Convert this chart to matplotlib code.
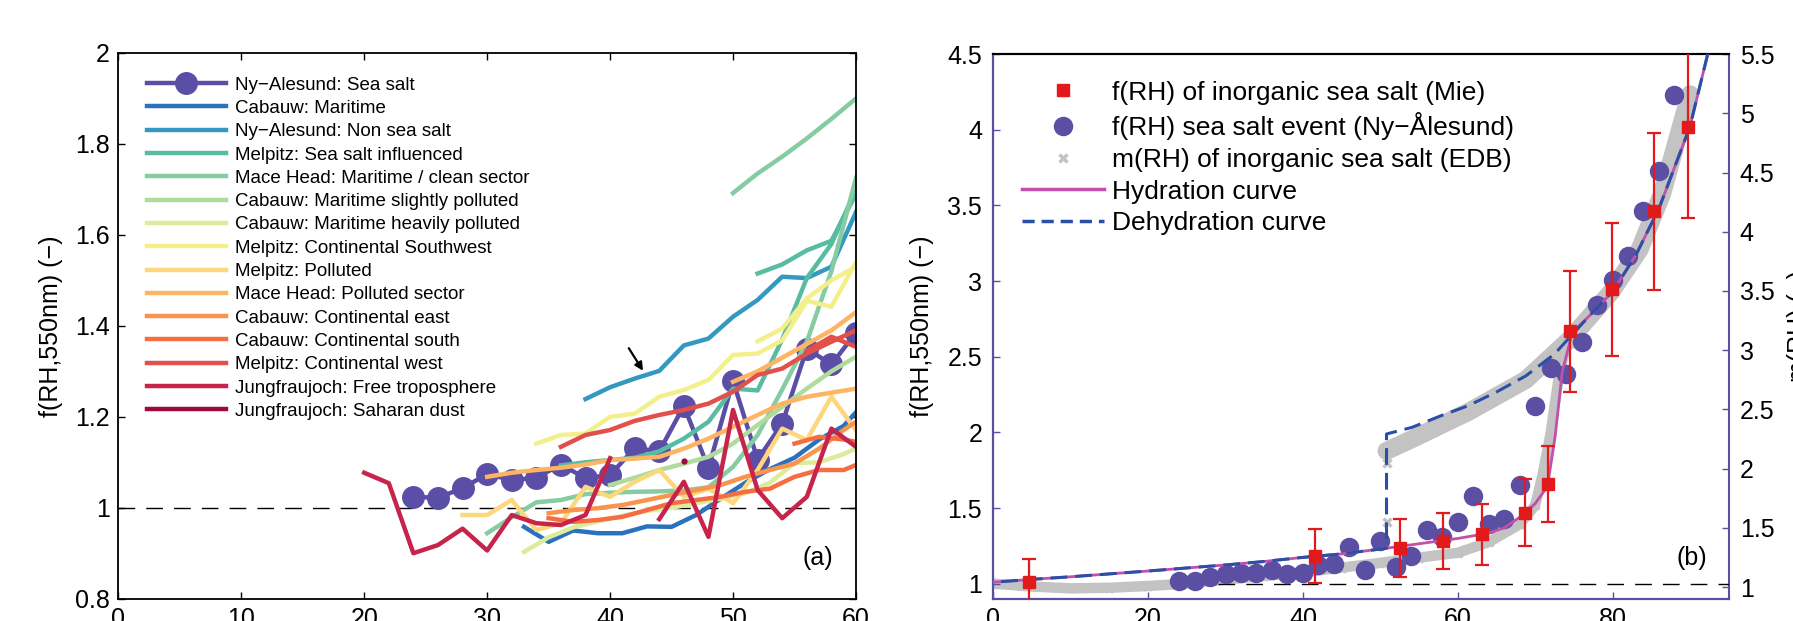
import numpy as np
import matplotlib
matplotlib.use('Agg')
import matplotlib.pyplot as plt
from matplotlib.lines import Line2D
from matplotlib.ticker import FormatStrFormatter

plt.rcParams['font.family'] = ['Liberation Sans', 'DejaVu Sans']

nan = np.nan

# ---------------- panel (a): f(RH) of different sites ----------------
labels_a = ['Ny\u2212Alesund: Sea salt', 'Cabauw: Maritime', 'Ny\u2212Alesund: Non sea salt',
            'Melpitz: Sea salt influenced', 'Mace Head: Maritime / clean sector',
            'Cabauw: Maritime slightly polluted', 'Cabauw: Maritime heavily polluted',
            'Melpitz: Continental Southwest', 'Melpitz: Polluted', 'Mace Head: Polluted sector',
            'Cabauw: Continental east', 'Cabauw: Continental south', 'Melpitz: Continental west',
            'Jungfraujoch: Free troposphere', 'Jungfraujoch: Saharan dust']

rh_ny_ss = [24, 26, 28, 30, 32, 34, 36, 38, 40, 42, 44, 46, 48, 50, 52, 54, 56, 58, 60]
f_ny_ss = [1.024, 1.022, 1.043, 1.074, 1.061, 1.066, 1.095, 1.065, 1.072, 1.131, 1.124, 1.224,
           1.087, 1.279, 1.106, 1.185, 1.350, 1.315, 1.385]

rh_cab_mar = [33, 35, 37, 39, 41, 43, 45, 47, 49, 51, 53, 55, 57, 59, 60]
f_cab_mar = [0.958, 0.925, 0.950, 0.944, 0.944, 0.959, 0.958, 0.984, 1.020, 1.055, 1.085, 1.110,
             1.150, 1.180, 1.210]

rh_ny_nss = [38, 40, 42, 44, 46, 48, 50, 52, 54, 56, 58, 60]
f_ny_nss = [1.239, 1.265, 1.284, 1.301, 1.357, 1.372, 1.420, 1.457, 1.508, 1.505, 1.530, 1.650]

rh_mel_ss = [36, 38, 40, 42, 44, 46, 48, 50, 52, 54, 56, 58, 60, nan, 52, 54, 56, 58, 60]
f_mel_ss = [1.093, 1.100, 1.105, 1.110, 1.124, 1.152, 1.189, 1.262, 1.258, 1.370, 1.505, 1.580,
            1.700, nan, 1.515, 1.535, 1.566, 1.587, 1.690]

rh_mh_mar = [30, 32, 34, 36, 38, 40, 42, 44, 46, 48, 50, 52, 54, 56, 58, 60, nan,
             50, 52, 54, 56, 58, 60]
f_mh_mar = [0.944, 0.979, 1.012, 1.017, 1.030, 1.033, 1.035, 1.036, 1.038, 1.045, 1.090, 1.160,
            1.260, 1.365, 1.520, 1.725, nan, 1.692, 1.735, 1.772, 1.812, 1.855, 1.900]

rh_cab_slight = [40, 42, 44, 46, 48, 50, 52, 54, 56, 58, 60]
f_cab_slight = [1.050, 1.066, 1.083, 1.097, 1.112, 1.141, 1.182, 1.222, 1.262, 1.300, 1.332]

rh_cab_heavy = [33, 35, 37, 39, 41, 43, 45, 47, 49, 51, 53, 55, 57, 59, 60]
f_cab_heavy = [0.903, 0.935, 0.957, 0.970, 0.982, 0.993, 1.000, 1.010, 1.020, 1.032, 1.055,
               1.098, 1.100, 1.118, 1.130]

rh_mel_sw = [34, 36, 38, 40, 42, 44, 46, 48, 50, 52, 54, 56, 58, 60, nan, 52, 54, 56, 58, 60]
f_mel_sw = [1.141, 1.160, 1.163, 1.200, 1.207, 1.244, 1.259, 1.281, 1.336, 1.339, 1.368, 1.455,
            1.442, 1.540, nan, 1.366, 1.394, 1.460, 1.500, 1.530]

rh_mel_pol = [28, 30, 32, 34, 36, 38, 40, 42, 44, 46, 48, 50, 52, 54, 56, 58, 60]
f_mel_pol = [0.984, 0.984, 1.017, 0.951, 0.966, 1.046, 1.024, 1.057, 1.083, 1.024, 1.042, 1.010,
             1.083, 1.174, 1.149, 1.244, 1.170]

rh_mh_pol = [30, 32, 34, 36, 38, 40, 42, 44, 46, 48, 50, 52, 54, 56, 58, 60, nan,
             50, 52, 54, 56, 58, 60]
f_mh_pol = [1.068, 1.077, 1.083, 1.088, 1.095, 1.105, 1.108, 1.112, 1.130, 1.152, 1.178, 1.204,
            1.229, 1.244, 1.253, 1.262, nan, 1.277, 1.300, 1.330, 1.360, 1.390, 1.430]

rh_cab_east = [35, 37, 39, 41, 43, 45, 47, 49, 51, 53, 55, 57, 59, 60]
f_cab_east = [0.988, 0.995, 0.999, 1.006, 1.017, 1.028, 1.039, 1.050, 1.068, 1.083, 1.097,
              1.130, 1.171, 1.189]

rh_cab_south = [35, 37, 39, 41, 43, 45, 47, 49, 51, 53, 55, 57, 59, 60, nan, 55, 57, 59, 60]
f_cab_south = [0.977, 0.969, 0.973, 0.980, 0.995, 1.010, 1.017, 1.024, 1.035, 1.042, 1.068,
               1.083, 1.083, 1.094, nan, 1.141, 1.156, 1.150, 1.145]

rh_mel_w = [36, 38, 40, 42, 44, 46, 48, 50, 52, 54, 56, 58, 60, nan, 56, 58, 60]
f_mel_w = [1.134, 1.160, 1.171, 1.191, 1.204, 1.215, 1.229, 1.255, 1.292, 1.306, 1.339, 1.365,
           1.390, nan, 1.345, 1.376, 1.354]

rh_jfj_ft = [20, 22, 24, 26, 28, 30, 32, 34, 36, 38, 40, 42, 44, 46, 48, 50, 52, 54, 56, 58, 60]
f_jfj_ft = [1.077, 1.054, 0.900, 0.918, 0.954, 0.906, 0.984, 0.966, 0.962, 0.984, 1.109, nan,
            0.975, 1.057, 0.936, 1.215, 1.039, 0.977, 1.024, 1.174, 1.134]

rh_jfj_sd = [46]
f_jfj_sd = [1.103]

colors_a = ['#5a4ea6', '#2b72bc', '#3399c0', '#58bca3', '#86cca2', '#afdc9c', '#dcec9a',
            '#f3ef8a', '#fdd77c', '#fdb463', '#f9944f', '#f46d43', '#e1504a', '#c6244a', '#9e0a3e']

# ---------------- panel (b): sea salt ----------------
rh_mie = [4.6, 41.5, 52.6, 58.1, 63.2, 68.7, 71.7, 74.5, 79.9, 85.3, 89.8]
f_mie = [1.013, 1.183, 1.236, 1.283, 1.327, 1.471, 1.662, 2.668, 2.945, 3.461, 4.018]
err_mie = [0.15, 0.178, 0.19, 0.186, 0.2, 0.223, 0.25, 0.40, 0.437, 0.52, 0.60]

rh_event = [24, 26, 28, 30, 32, 34, 36, 38, 40, 42, 44, 46, 48, 50, 52, 54, 56, 58, 60, 62, 64,
            66, 68, 70, 72, 74, 76, 78, 80, 82, 84, 86, 88]
f_event = [1.022, 1.020, 1.044, 1.066, 1.070, 1.072, 1.094, 1.065, 1.070, 1.125, 1.130, 1.241,
           1.092, 1.285, 1.110, 1.186, 1.355, 1.310, 1.412, 1.579, 1.397, 1.429, 1.655, 2.173,
           2.427, 2.387, 2.597, 2.840, 3.008, 3.165, 3.461, 3.728, 4.228]

# m(RH) EDB, right axis
rh_edb_hyd = [0, 5, 10, 15, 20, 25, 30, 35, 40, 45, 50, 55, 60, 64, 68, 70, 71, 72, 73, 74]
m_edb_hyd = [1.03, 1.005, 0.99, 0.995, 1.01, 1.03, 1.065, 1.095, 1.125, 1.165, 1.205, 1.25,
             1.29, 1.38, 1.53, 1.69, 1.96, 2.30, 2.75, 3.05]
rh_edb_dehyd = [90, 88.7, 86.4, 83.5, 79.8, 74.6, 68.8, 61.4, 54.1, 50.8]
m_edb_dehyd = [5.16, 4.86, 4.32, 3.85, 3.49, 3.10, 2.75, 2.48, 2.25, 2.15]
rh_edb_jump = [50.8, 50.8]
m_edb_jump = [2.05, 1.55]

rh_hyd = [0, 5, 10, 15, 20, 25, 30, 35, 40, 45, 50, 55, 60, 64, 66, 68, 70, 71.6, 72.6, 73.5,
          74.8, 77, 80, 83, 86, 88, 90, 92.3]
f_hyd = [1.011, 1.03, 1.047, 1.066, 1.085, 1.105, 1.125, 1.148, 1.175, 1.198, 1.23, 1.265, 1.30,
         1.335, 1.37, 1.44, 1.53, 1.644, 1.98, 2.40, 2.66, 2.77, 2.93, 3.17, 3.48, 3.75, 4.02, 4.5]

rh_dehyd = [92.3, 90, 88, 86, 83, 80, 77, 74.6, 72.5, 68.8, 65.1, 61.4, 57.8, 54.1, 50.8, 50.8,
            50, 45, 40, 35, 30, 25, 20, 15, 10, 5, 0]
f_dehyd = [4.5, 4.02, 3.75, 3.48, 3.17, 2.93, 2.77, 2.636, 2.518, 2.374, 2.27, 2.178, 2.11,
           2.034, 1.99, 1.235, 1.23, 1.198, 1.175, 1.148, 1.125, 1.105, 1.085, 1.066, 1.047,
           1.03, 1.011]

purple = '#5a4fa2'
red = '#e31a1c'
grey = '#c3c3c3'

fig = plt.figure(figsize=(17.93, 6.21), dpi=100)

# ================= (a) =================
axa = fig.add_axes([0.0660, 0.0359, 0.4114, 0.8788])
series_a = [(rh_ny_ss, f_ny_ss), (rh_cab_mar, f_cab_mar), (rh_ny_nss, f_ny_nss),
            (rh_mel_ss, f_mel_ss), (rh_mh_mar, f_mh_mar), (rh_cab_slight, f_cab_slight),
            (rh_cab_heavy, f_cab_heavy), (rh_mel_sw, f_mel_sw), (rh_mel_pol, f_mel_pol),
            (rh_mh_pol, f_mh_pol), (rh_cab_east, f_cab_east), (rh_cab_south, f_cab_south),
            (rh_mel_w, f_mel_w), (rh_jfj_ft, f_jfj_ft), (rh_jfj_sd, f_jfj_sd)]
axa.plot([0, 60], [1, 1], color='k', lw=1.0, dashes=(12, 8), zorder=1)
for i, (x, y) in enumerate(series_a):
    if i == 0:
        axa.plot(x, y, '-o', color=colors_a[i], lw=3.2, ms=15.5, label=labels_a[i], zorder=2)
    else:
        axa.plot(x, y, '-', color=colors_a[i], lw=3.2, label=labels_a[i], zorder=2)
axa.plot(rh_jfj_sd, f_jfj_sd, 'o', color=colors_a[14], ms=3.5, zorder=3)

axa.annotate('', xy=(42.8, 1.296), xytext=(41.4, 1.356),
             arrowprops=dict(arrowstyle='-|>', color='k', lw=1.6, mutation_scale=12))

axa.set_xlim(0, 60)
axa.set_ylim(0.8, 2.0)
axa.set_xticks([0, 10, 20, 30, 40, 50, 60])
axa.set_yticks([0.8, 1.0, 1.2, 1.4, 1.6, 1.8, 2.0])
axa.yaxis.set_major_formatter(FormatStrFormatter('%g'))
axa.tick_params(direction='in', top=True, right=True, length=5, width=1, labelsize=18, pad=6)
for s in axa.spines.values():
    s.set_linewidth(1.3)
axa.set_ylabel('f(RH,550nm) (\u2212)', fontsize=18, labelpad=9)
axa.text(0.948, 0.075, '(a)', transform=axa.transAxes, fontsize=18, ha='center', va='center')
axa.legend(loc='upper left', bbox_to_anchor=(0.039, 0.957), frameon=False, fontsize=13.5,
           handlelength=4.2, handletextpad=0.48, labelspacing=0.33, borderpad=0,
           borderaxespad=0, markerscale=1.0)

# ================= (b) =================
axb = fig.add_axes([0.5540, 0.0354, 0.4101, 0.8776])
ax2 = axb.twinx()
ax2.set_zorder(0)
axb.set_zorder(1)
axb.patch.set_visible(False)

# m(RH) on right axis
ax2.plot(rh_edb_hyd, m_edb_hyd, '-', color=grey, lw=7.5, solid_capstyle='round')
ax2.plot(rh_edb_dehyd, m_edb_dehyd, '-', color=grey, lw=13, solid_capstyle='round')
ax2.plot(rh_edb_hyd + rh_edb_dehyd + rh_edb_jump, m_edb_hyd + m_edb_dehyd + m_edb_jump, 'x',
         color=grey, ms=6, mew=2.5)
ax2.set_ylim(0.9, 5.5)
ax2.set_yticks([1, 1.5, 2, 2.5, 3, 3.5, 4, 4.5, 5, 5.5])
ax2.yaxis.set_major_formatter(FormatStrFormatter('%g'))
ax2.tick_params(axis='y', direction='in', length=5, width=1, color=purple, labelsize=18, pad=8)
ax2.set_ylabel('m(RH) (\u2212)', fontsize=18, labelpad=9)

axb.plot([29, 95], [1, 1], color='k', lw=1.0, dashes=(12, 8), zorder=1)
axb.plot(rh_event, f_event, 'o', color=purple, ms=13, zorder=2)
axb.plot(rh_hyd, f_hyd, '-', color='#c150aa', lw=2.0, zorder=3)
axb.plot(rh_dehyd, f_dehyd, '--', color='#2b4fa6', lw=2.2, dashes=(5.5, 2.6), zorder=4)
axb.errorbar(rh_mie, f_mie, yerr=err_mie, fmt='s', color=red, ms=8, elinewidth=1.6,
             capsize=5, capthick=1.6, zorder=5)

axb.set_xlim(0, 95)
axb.set_ylim(0.9, 4.5)
axb.set_xticks([0, 20, 40, 60, 80])
axb.set_yticks([1, 1.5, 2, 2.5, 3, 3.5, 4, 4.5])
axb.yaxis.set_major_formatter(FormatStrFormatter('%g'))
axb.tick_params(direction='in', length=5, width=1, color=purple, labelsize=18, pad=6)
axb.tick_params(axis='y', pad=8)
axb.spines['left'].set_color(purple)
axb.spines['bottom'].set_color(purple)
axb.spines['right'].set_visible(False)
ax2.spines['right'].set_color(purple)
for s in list(axb.spines.values()) + list(ax2.spines.values()):
    s.set_linewidth(1.5)
axb.set_ylabel('f(RH,550nm) (\u2212)', fontsize=18, labelpad=10)
axb.text(0.95, 0.075, '(b)', transform=axb.transAxes, fontsize=18, ha='center', va='center')

handles_b = [Line2D([], [], ls='none', marker='s', color=red, ms=8),
             Line2D([], [], ls='none', marker='o', color=purple, ms=13),
             Line2D([], [], ls='none', marker='x', color=grey, ms=6, mew=2.5),
             Line2D([], [], ls='-', color='#c150aa', lw=2.5),
             Line2D([], [], ls='--', color='#2b4fa6', lw=2.5, dashes=(3.5, 2))]
labels_b = ['f(RH) of inorganic sea salt (Mie)', 'f(RH) sea salt event (Ny\u2212\u00c5lesund)',
            'm(RH) of inorganic sea salt (EDB)', 'Hydration curve', 'Dehydration curve']
axb.legend(handles_b, labels_b, loc='upper left', bbox_to_anchor=(0.039, 0.951), frameon=False,
           fontsize=19, handlelength=3.1, handletextpad=0.3, labelspacing=0.29, borderpad=0,
           borderaxespad=0)

fig.savefig('out.png', dpi=100)
